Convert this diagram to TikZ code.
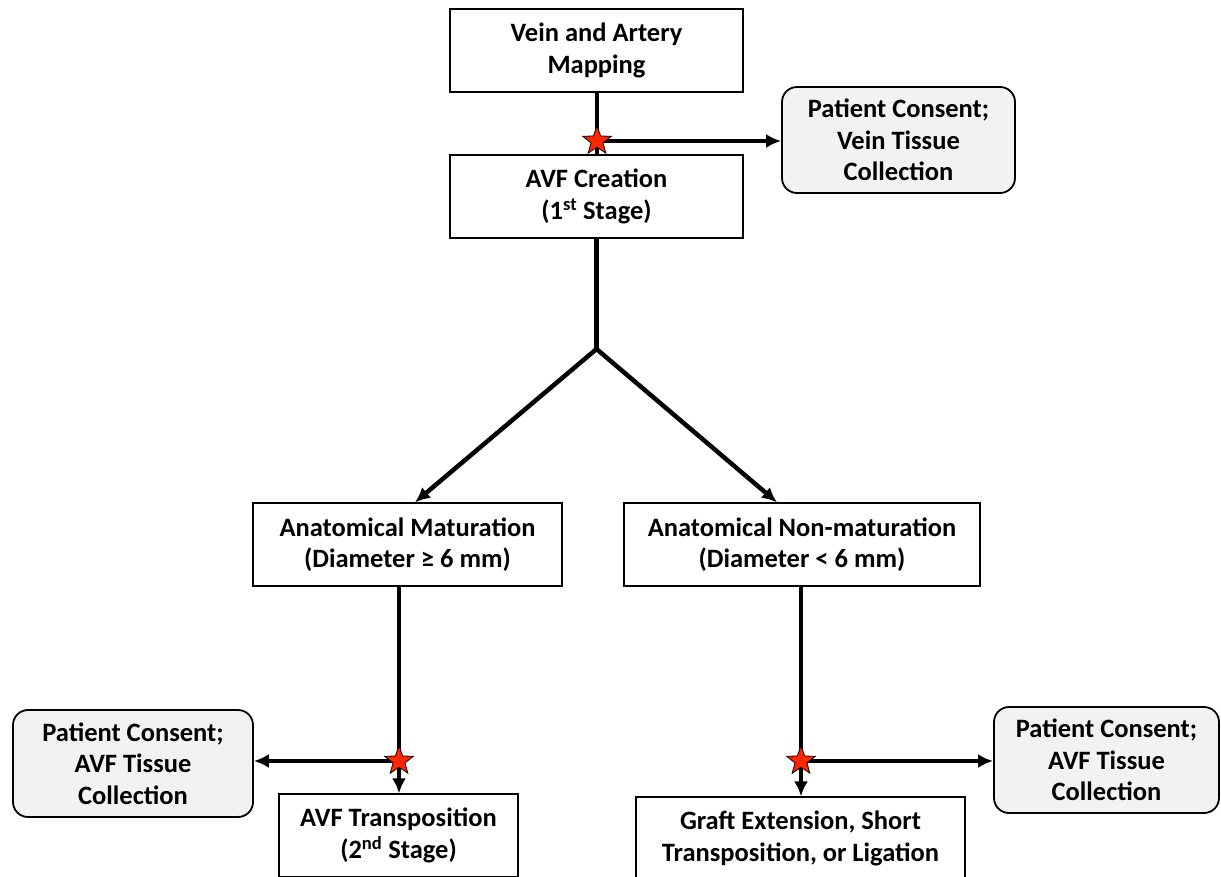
\documentclass[tikz,border=0pt]{standalone}
\usepackage{fontspec}
\setmainfont{Carlito}
\usetikzlibrary{shapes.geometric,arrows.meta}
\definecolor{starred}{RGB}{255,38,0}
\definecolor{consentfill}{RGB}{242,242,242}
\begin{document}
\begin{tikzpicture}[x=1pt,y=-1pt,
  every node/.style={font=\bfseries\fontsize{26.5}{31.5}\selectfont, align=center, inner sep=0pt},
  box/.style={draw, line width=1.3pt, fill=white},
  consent/.style={draw, line width=1.8pt, fill=consentfill, rounded corners=15pt},
  conn/.style={line width=4.5pt},
  arr/.style={line width=4.5pt, -{Latex[length=15pt,width=14pt]}},
  redstar/.style={star, star points=5, star point ratio=2.4, minimum size=30pt,
    fill=starred, draw=black, line width=0.8pt, inner sep=0pt}]
\useasboundingbox (0,0) rectangle (1221,876);
\clip (0,0) rectangle (1221,876);
\fill[white] (0,0) rectangle (1221,876);

% nodes
\node[box, minimum width=293pt, minimum height=83pt] (map) at (596.5,50.5) {Vein and Artery\\Mapping};
\node[box, minimum width=293pt, minimum height=83pt] (create) at (596.5,196.5) {AVF Creation\\(1\textsuperscript{st} Stage)};
\node[consent, minimum width=233pt, minimum height=106pt] (pc1) at (898.5,140) {Patient Consent;\\Vein Tissue\\Collection};
\node[box, minimum width=309pt, minimum height=83pt] (mat) at (407.5,544.5) {Anatomical Maturation\\(Diameter ≥ 6 mm)};
\node[box, minimum width=356pt, minimum height=83pt] (nonmat) at (802,544.5) {Anatomical Non-maturation\\(Diameter < 6 mm)};
\node[consent, minimum width=240pt, minimum height=107pt] (pcl) at (133,763.5) {Patient Consent;\\AVF Tissue\\Collection};
\node[consent, minimum width=225pt, minimum height=106pt] (pcr) at (1106.5,760) {Patient Consent;\\AVF Tissue\\Collection};
\node[box, minimum width=239pt, minimum height=83pt] (trans) at (398.5,835.5) {AVF Transposition\\(2\textsuperscript{nd} Stage)};
\node[box, minimum width=329pt, minimum height=83pt] (graft) at (800.5,838.5) {Graft Extension, Short\\Transposition, or Ligation};

% connection points
\coordinate (s1) at (597,141);
\coordinate (junc) at (596.5,349);
\coordinate (sL) at (399,761);
\coordinate (sR) at (801,761);
\coordinate (tipL) at (415,503);
\coordinate (tipR) at (777,503);

% connectors
\draw[conn] (s1 |- map.south) -- (s1 |- create.north);
\draw[arr] (s1) -- (pc1.west |- s1);
\draw[conn] (junc |- create.south) -- (junc);
\draw[arr] (junc) -- (tipL |- mat.north);
\draw[arr] (junc) -- (tipR |- nonmat.north);
\draw[conn] (sL |- mat.south) -- (sL);
\draw[arr] (sL) -- (sL |- trans.north);
\draw[arr] (sL) -- (pcl.east |- sL);
\draw[conn] (sR |- nonmat.south) -- (sR);
\draw[arr] (sR) -- (sR |- graft.north);
\draw[arr] (sR) -- (pcr.west |- sR);

% stars
\node[redstar] (star1) at (s1) {};
\node[redstar] (starL) at (sL) {};
\node[redstar] (starR) at (sR) {};
\end{tikzpicture}
\end{document}
